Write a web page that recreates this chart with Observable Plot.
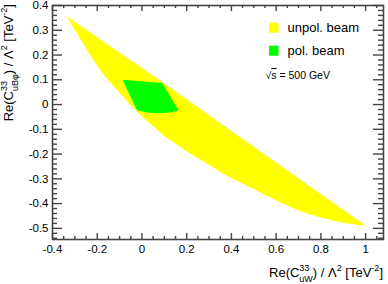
<!DOCTYPE html>
<html><head><meta charset="utf-8">
<script src="https://cdn.jsdelivr.net/npm/d3@7"></script>
<script src="https://cdn.jsdelivr.net/npm/@observablehq/plot@0.6"></script>
<style>html,body{margin:0;padding:0;background:#fff}</style>
</head><body><div id="chart"></div>
<script>
// Allowed region, unpolarised beam: upper edge (left tip -> right tip)
const unpolUpperX = [-0.335, 0.091, 0.396, 0.998];
const unpolUpperY = [0.354, 0.090, -0.106, -0.489];
// lower edge (left tip -> right tip)
const unpolLowerX = [-0.335, -0.261, -0.214, -0.161, -0.102, -0.032, 0.039, 0.099, 0.158, 0.232, 0.307, 0.381, 0.455, 0.530, 0.574, 0.723, 0.872, 0.998];
const unpolLowerY = [0.354, 0.244, 0.176, 0.109, 0.050, -0.020, -0.079, -0.126, -0.163, -0.207, -0.247, -0.288, -0.321, -0.355, -0.375, -0.435, -0.472, -0.489];
// Allowed region, polarised beam (closed outline)
const polX = [-0.087, 0.091, 0.164, 0.115, 0.069, 0.030, -0.022];
const polY = [0.100, 0.087, -0.025, -0.033, -0.035, -0.033, -0.023];

const majorX = [-0.4, -0.2, 0, 0.2, 0.4, 0.6, 0.8, 1];
const majorY = [-0.5, -0.4, -0.3, -0.2, -0.1, 0, 0.1, 0.2, 0.3, 0.4];
const legendLabels = ["unpol. beam", "pol. beam"];
const legendColors = ["#ffff00", "#00ff00"];
const energyLabel = "= 500 GeV";

const minorX = d3.range(-40, 106, 5).map(v => v / 100).filter(v => !majorX.some(m => Math.abs(m - v) < 1e-9));
const minorY = d3.range(-54, 41, 2).map(v => v / 100).filter(v => !majorY.some(m => Math.abs(m - v) < 1e-9));

const W = 388, H = 284, mL = 52, mR = 5, mT = 5, mB = 45;
const iW = W - mL - mR, iH = H - mT - mB;

const upperPts = unpolUpperX.map((x, i) => ({x, y: unpolUpperY[i]}));
const lowerPts = unpolLowerX.map((x, i) => ({x, y: unpolLowerY[i]}));
const polPoly = polX.map((x, i) => ({x, y: polY[i]}));

const fmt = d => d === 0 ? "0" : String(d);
const axC = "#444", axW = 1.4;

const plot = Plot.plot({
  width: W, height: H,
  marginLeft: mL, marginRight: mR, marginTop: mT, marginBottom: mB,
  x: {domain: [-0.4, 1.08]},
  y: {domain: [-0.545, 0.4]},
  style: {fontFamily: "'Liberation Sans', Arial, sans-serif", fontSize: "11.5px", background: "#fff", color: "#000"},
  marks: [
    // region between the tip-to-tip chord and the curved lower edge
    Plot.line(lowerPts, {x: "x", y: "y", curve: "catmull-rom", fill: legendColors[0], stroke: "none"}),
    // region between the chord and the (nearly straight) upper edge
    Plot.line(upperPts, {x: "x", y: "y", fill: legendColors[0], stroke: legendColors[0], strokeWidth: 0.8}),
    Plot.line(polPoly, {x: "x", y: "y", fill: legendColors[1], stroke: "none"}),
    Plot.tickX(majorX, {x: d => d, insetTop: iH - 6, stroke: axC, strokeWidth: axW}),
    Plot.tickX(majorX, {x: d => d, insetBottom: iH - 6, stroke: axC, strokeWidth: axW}),
    Plot.tickX(minorX, {x: d => d, insetTop: iH - 3, stroke: axC, strokeWidth: axW}),
    Plot.tickX(minorX, {x: d => d, insetBottom: iH - 3, stroke: axC, strokeWidth: axW}),
    Plot.tickY(majorY, {y: d => d, insetRight: iW - 10, stroke: axC, strokeWidth: axW}),
    Plot.tickY(majorY, {y: d => d, insetLeft: iW - 10, stroke: axC, strokeWidth: axW}),
    Plot.tickY(minorY, {y: d => d, insetRight: iW - 5, stroke: axC, strokeWidth: axW}),
    Plot.tickY(minorY, {y: d => d, insetLeft: iW - 5, stroke: axC, strokeWidth: axW}),
    Plot.frame({stroke: axC, strokeWidth: axW + 0.2}),
    Plot.axisX({ticks: majorX, tickSize: 0, tickPadding: 5, tickFormat: fmt, label: null}),
    Plot.axisY({ticks: majorY, tickSize: 0, tickPadding: 4, tickFormat: fmt, label: null})
  ]
});
document.getElementById("chart").appendChild(plot);

const svg = d3.select(plot);
const FONT = "'Liberation Sans', Arial, sans-serif";
const SUP = 6, SUB = 5, SMALL = 9;

function richTitle(g, pieces) {
  let level = 0, lastW = 0;
  pieces.forEach(p => {
    const ts = g.append("tspan").text(p.t);
    const target = p.k === "sup" ? -SUP : p.k === "sub" ? SUB : 0;
    if (target - level !== 0) ts.attr("dy", target - level);
    level = target;
    if (p.k) ts.attr("font-size", SMALL);
    if (p.stack) ts.attr("dx", -lastW);
    lastW = ts.node().getComputedTextLength();
  });
}

const xTitle = svg.append("text")
  .attr("x", W - mR).attr("y", 276.5)
  .attr("text-anchor", "end").attr("font-family", FONT).attr("font-size", 13).attr("fill", "#000");
richTitle(xTitle, [
  {t: "Re(C"}, {t: "33", k: "sup"}, {t: "uW", k: "sub", stack: true},
  {t: ") / Λ"}, {t: "2", k: "sup"}, {t: " [TeV"}, {t: "-2", k: "sup"}, {t: "]"}
]);

const yTitle = svg.append("text")
  .attr("transform", `translate(13.3,${mT - 1}) rotate(-90)`)
  .attr("text-anchor", "end").attr("font-family", FONT).attr("font-size", 13).attr("fill", "#000");
richTitle(yTitle, [
  {t: "Re(C"}, {t: "33", k: "sup"}, {t: "uBφ", k: "sub", stack: true},
  {t: ") / Λ"}, {t: "2", k: "sup"}, {t: " [TeV"}, {t: "-2", k: "sup"}, {t: "]"}
]);

// legend
const lg = svg.append("g").attr("font-family", FONT).attr("font-size", 13).attr("text-anchor", "start").attr("fill", "#000");
legendLabels.forEach((lab, i) => {
  const y0 = 22.7 + i * 23;
  lg.append("rect").attr("x", 269).attr("y", y0).attr("width", 9.5).attr("height", 10).attr("fill", legendColors[i]);
  lg.append("text").attr("x", 287.5).attr("y", y0 + 9).attr("text-anchor", "start").text(lab);
});
const en = lg.append("text").attr("x", 265.5).attr("y", 79).attr("font-size", 10.5).attr("text-anchor", "start");
en.append("tspan").text("√");
en.append("tspan").text("s").style("text-decoration", "overline");
en.append("tspan").text(" " + energyLabel);
</script>
</body></html>
